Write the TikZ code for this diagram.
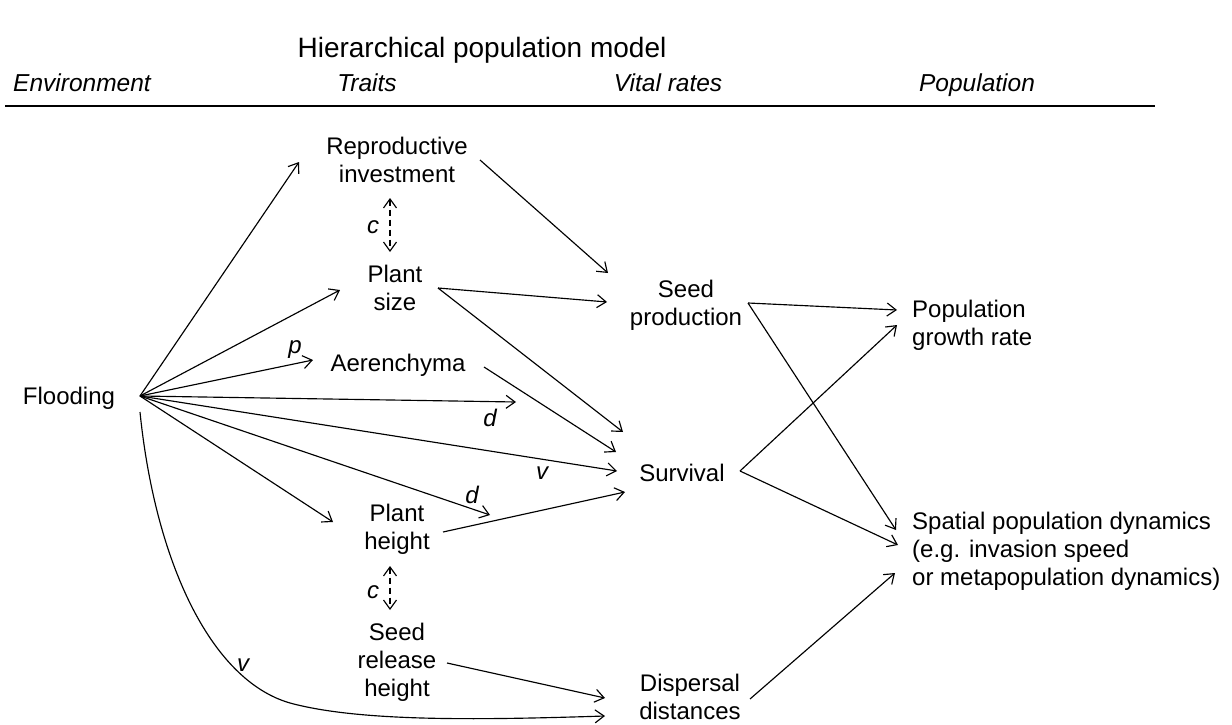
\documentclass[tikz,border=0pt]{standalone}
\usepackage{fontspec}
\setmainfont{Liberation Sans}
\usetikzlibrary{arrows.meta,calc}
\begin{document}
\begin{tikzpicture}[x=1pt,y=-1pt,
  every node/.style={font=\fontsize{24}{28}\selectfont, inner sep=0pt},
  txt/.style={align=center},
  hdr/.style={font=\fontsize{24.5}{28}\selectfont\itshape, anchor=base},
  lbl/.style={font=\fontsize{24}{28}\selectfont\itshape},
  arr/.style={-{Straight Barb[length=9pt,width=13pt]}, line width=1.15pt},
  darr/.style={{Straight Barb[length=9pt,width=13pt]}-{Straight Barb[length=9pt,width=13pt]}, line width=1.15pt, dash pattern=on 6pt off 4pt},
  rule/.style={line width=1.2pt}]
\fill[white] (0,0) rectangle (1232,725);
\useasboundingbox (0,0) rectangle (1232,725);
% title and headers
\node (title) at (482,50) {\fontsize{28}{34}\selectfont Hierarchical population model};
\node[hdr] (henv) at (82,92) {Environment};
\node[hdr] (htr) at (367,92) {Traits};
\node[hdr] (hvr) at (668,92) {Vital rates};
\node[hdr] (hpop) at (977,92) {Population};
\coordinate (rulel) at (5,106);
\coordinate (ruler) at (1155,106);
\draw[rule] (rulel) -- (ruler);
% nodes
\node[txt] (fl) at (69,398) {Flooding};
\node[txt] (repro) at (397,160) {Reproductive\\investment};
\node[txt] (psize) at (395,288) {Plant\\size};
\node[txt] (aer) at (398,365) {Aerenchyma};
\node[txt] (pheight) at (397,529) {Plant\\height};
\node[txt] (seedrel) at (397,662) {Seed\\release\\height};
\node[txt] (seedprod) at (686,305) {Seed\\production};
\node[txt] (surv) at (682,473) {Survival};
\node[txt] (disp) at (690,697) {Dispersal\\distances};
\node[align=left, anchor=west] (pgr) at (912,325) {Population\\growth rate};
\node[align=left, anchor=west] (spatial) at (912,551) {Spatial population dynamics\\(e.g. invasion speed\\or metapopulation dynamics)};
\coordinate (hub) at ($(fl)+(71,-2)$);
\coordinate (hubc) at ($(fl)+(71,14)$);
\coordinate (dend1) at (516,402);
\coordinate (dend2) at (490,515);
% labels
\node[lbl] (lp) at (295,350) {p};
\node[lbl] (ld1) at (490,418) {d};
\node[lbl] (lv1) at (542,473) {v};
\node[lbl] (ld2) at (472,495) {d};
\node[lbl] (lv2) at (243,665) {v};
\node[lbl] (lc1) at (373,227) {c};
\node[lbl] (lc2) at (373,592) {c};
% flooding arrows
\draw[arr] (hub) -- ($(repro)+(-98,2)$);
\draw[arr] (hub) -- ($(psize)+(-55,2)$);
\draw[arr] (hub) -- ($(aer)+(-85,-5)$);
\draw[arr] (hub) -- (dend1);
\draw[arr] (hub) -- ($(surv)+(-65,-2)$);
\draw[arr] (hub) -- (dend2);
\draw[arr] (hub) -- ($(pheight)+(-64,-7)$);
\draw[arr] (hubc) .. controls (155,560) and (210,680) .. (290,703)
  .. controls (360,722) and (480,720) .. ($(disp)+(-85,19)$);
% dashed correlations
\draw[darr] ($(repro)+(-7,38)$) -- ($(psize)+(-5,-36)$);
\draw[darr] ($(pheight)+(-7,37)$) -- ($(seedrel)+(-7,-52)$);
% traits to vital rates
\draw[arr] ($(repro)+(83,0)$) -- ($(seedprod)+(-78,-32)$);
\draw[arr] ($(psize)+(43,0)$) -- ($(seedprod)+(-79,-3)$);
\draw[arr] ($(psize)+(43,0)$) -- ($(surv)+(-59,-41)$);
\draw[arr] ($(aer)+(86,2)$) -- ($(surv)+(-66,-21)$);
\draw[arr] ($(pheight)+(46,3)$) -- ($(surv)+(-57,19)$);
\draw[arr] ($(seedrel)+(50,1)$) -- ($(disp)+(-85,1)$);
% vital rates to population
\draw[arr] ($(seedprod)+(62,-2)$) -- ($(pgr.west)+(-15,-15)$);
\draw[arr] ($(seedprod)+(62,-2)$) -- ($(spatial.west)+(-16,-21)$);
\draw[arr] ($(surv)+(58,-2)$) -- ($(pgr.west)+(-15,0)$);
\draw[arr] ($(surv)+(58,-2)$) -- ($(spatial.west)+(-14,-6)$);
\draw[arr] ($(disp)+(60,2)$) -- ($(spatial.west)+(-17,22)$);
\end{tikzpicture}
\end{document}
